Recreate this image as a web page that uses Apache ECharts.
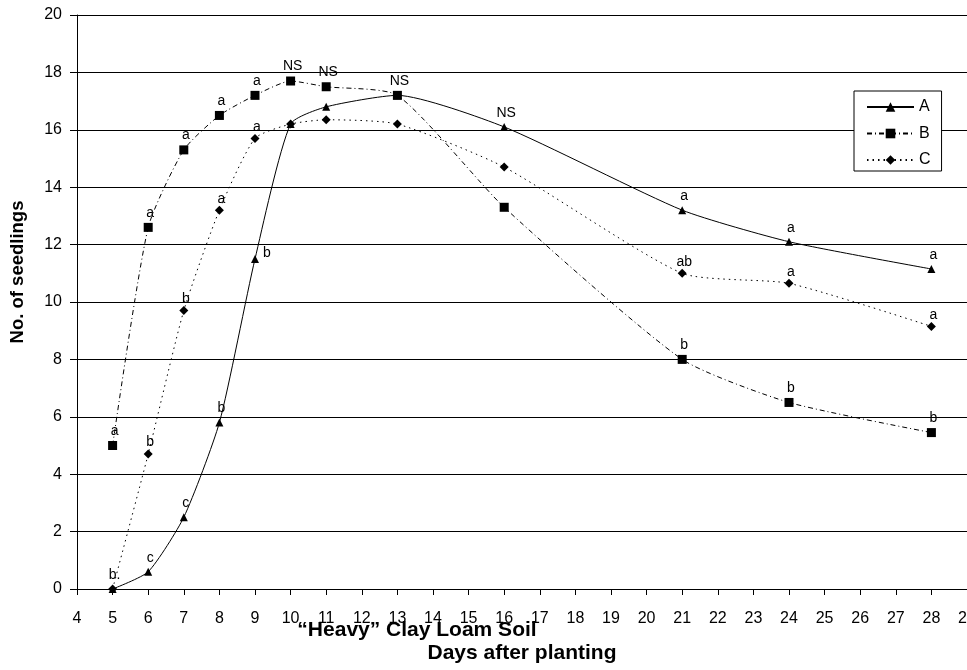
<!DOCTYPE html>
<html>
<head>
<meta charset="utf-8">
<script src="https://cdn.jsdelivr.net/npm/echarts@6/dist/echarts.min.js"></script>
<style>
html,body{margin:0;padding:0;background:#fff;}
#chart{width:967px;height:670px;}
</style>
</head>
<body>
<div id="chart"></div>
<script>
// ---- data ----
const days = [5, 6, 7, 8, 9, 10, 11, 13, 16, 21, 24, 28];
const seriesA = [0, 0.6, 2.5, 5.8, 11.5, 16.2, 16.8, 17.2, 16.1, 13.2, 12.1, 11.15];
const seriesB = [5.0, 12.6, 15.3, 16.5, 17.2, 17.7, 17.5, 17.2, 13.3, 8.0, 6.5, 5.45];
const seriesC = [0, 4.7, 9.7, 13.2, 15.7, 16.2, 16.35, 16.2, 14.7, 11.0, 10.65, 9.15];
const lettersA = ['b.', 'c', 'c', 'b', 'b', '', '', '', 'NS', 'a', 'a', 'a'];
const lettersB = ['a', 'a', 'a', 'a', 'a', 'NS', 'NS', 'NS', '', 'b', 'b', 'b'];
const lettersC = ['', 'b', 'b', 'a', 'a', '', '', '', '', 'ab', 'a', 'a'];
const seriesNames = ['A', 'B', 'C'];
const xMin = 4, xMax = 29, yMin = 0, yMax = 20;
const yTitle = 'No. of seedlings';
const xTitle1 = '\u201CHeavy\u201D Clay Loam Soil';
const xTitle2 = 'Days after planting';

// ---- styling ----
const FONT = '"Liberation Sans", Arial, sans-serif';
const rightLabels = { A: [4] };

function buildData(name, values, letters, dist) {
  return days.map((d, i) => {
    const txt = letters[i];
    const right = (rightLabels[name] || []).indexOf(i) >= 0;
    return {
      value: [d, values[i]],
      label: {
        show: txt !== '',
        formatter: txt,
        position: right ? 'right' : 'top',
        distance: right ? 4 : dist,
        offset: right ? [0, -6] : [2, 0],
        color: '#000',
        fontFamily: FONT,
        fontSize: 14
      }
    };
  });
}

const chart = echarts.init(document.getElementById('chart'), null, { renderer: 'canvas' });
chart.setOption({
  backgroundColor: '#fff',
  animation: false,
  grid: { left: 77, right: 0, top: 15, bottom: 81, containLabel: false, outerBoundsMode: 'none' },
  xAxis: {
    type: 'value', min: xMin, max: xMax, interval: 1,
    axisLine: { show: true, lineStyle: { color: '#000', width: 1 } },
    axisTick: { show: true, inside: false, length: 6, lineStyle: { color: '#000' } },
    axisLabel: { color: '#000', fontFamily: FONT, fontSize: 16, margin: 22, showMaxLabel: true, showMinLabel: true, hideOverlap: false },
    splitLine: { show: false }
  },
  yAxis: {
    type: 'value', min: yMin, max: yMax, interval: 2,
    axisLine: { show: true, lineStyle: { color: '#000', width: 1 } },
    axisTick: { show: true, inside: false, length: 7, lineStyle: { color: '#000' } },
    axisLabel: { color: '#000', fontFamily: FONT, fontSize: 16, margin: 15 },
    splitLine: { show: true, lineStyle: { color: '#000', width: 1 } }
  },
  legend: {
    data: seriesNames,
    orient: 'vertical',
    left: 854, top: 91,
    itemWidth: 47, itemHeight: 12, itemGap: 10.5,
    padding: [8, 11, 3, 12],
    borderColor: '#000', borderWidth: 1, borderRadius: 0,
    backgroundColor: '#fff',
    textStyle: { color: '#000', fontFamily: FONT, fontSize: 16 }
  },
  graphic: [
    { type: 'text', x: 18, y: 272, rotation: Math.PI / 2,
      style: { text: yTitle, font: 'bold 18.5px ' + FONT, fill: '#000', align: 'center', verticalAlign: 'middle' } },
    { type: 'text', x: 417, y: 630,
      style: { text: xTitle1, font: 'bold 21px ' + FONT, fill: '#000', align: 'center', verticalAlign: 'middle' } },
    { type: 'text', x: 522, y: 653,
      style: { text: xTitle2, font: 'bold 21px ' + FONT, fill: '#000', align: 'center', verticalAlign: 'middle' } }
  ],
  series: [
    { name: 'A', type: 'line', smooth: 0.2, symbol: 'triangle', symbolSize: 8,
      lineStyle: { color: '#000', width: 1, type: 'solid' },
      itemStyle: { color: '#000' },
      data: buildData('A', seriesA, lettersA, 3), z: 3 },
    { name: 'B', type: 'line', smooth: 0.2, symbol: 'rect', symbolSize: 9,
      lineStyle: { color: '#000', width: 1, type: [5, 3, 1, 3] },
      itemStyle: { color: '#000' },
      data: buildData('B', seriesB, lettersB, 3), z: 3 },
    { name: 'C', type: 'line', smooth: 0.2, symbol: 'diamond', symbolSize: 9,
      lineStyle: { color: '#000', width: 1, type: [1.5, 4] },
      itemStyle: { color: '#000' },
      data: buildData('C', seriesC, lettersC, 0), z: 3 }
  ]
});
</script>
</body>
</html>
